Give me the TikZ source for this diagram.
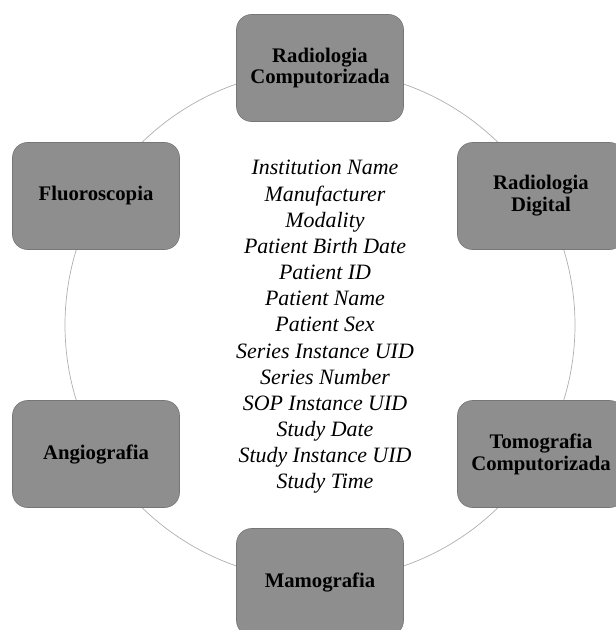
\documentclass[tikz,border=0pt]{standalone}
\usepackage{fontspec}
\setmainfont{Liberation Serif}
\begin{document}
\begin{tikzpicture}[x=1bp,y=-1bp,
  modality/.style={draw={rgb,255:red,118;green,118;blue,118}, line width=0.6bp,
    fill={rgb,255:red,142;green,142;blue,142},
    rounded corners=15bp, minimum width=167bp, minimum height=107bp,
    align=center, inner sep=0pt,
    font=\bfseries\fontsize{20.8}{22}\selectfont},
  ring/.style={draw={rgb,255:red,175;green,175;blue,175}, line width=0.7bp},
  fieldlist/.style={align=center, inner sep=0pt,
    font=\itshape\fontsize{22}{26.25}\selectfont}]
  \useasboundingbox (0,0) rectangle (616,630);
  \clip (0,0) rectangle (616,630);
  % ring joining the six modalities
  \draw[ring] (320,325) circle[radius=255];
  % modalities
  \node[modality] (rc) at (320,68)  {Radiologia\\Computorizada};
  \node[modality] (rd) at (541,196) {Radiologia\\Digital};
  \node[modality] (tc) at (541,454) {Tomografia\\Computorizada};
  \node[modality] (mg) at (320,582) {Mamografia};
  \node[modality] (ag) at (96,454)  {Angiografia};
  \node[modality] (fl) at (96,196)  {Fluoroscopia};
  % DICOM attributes in the centre
  \node[fieldlist] (fields) at (325,327) {Institution Name\\Manufacturer\\Modality\\Patient Birth Date\\Patient ID\\Patient Name\\Patient Sex\\Series Instance UID\\Series Number\\SOP Instance UID\\Study Date\\Study Instance UID\\Study Time};
\end{tikzpicture}
\end{document}
